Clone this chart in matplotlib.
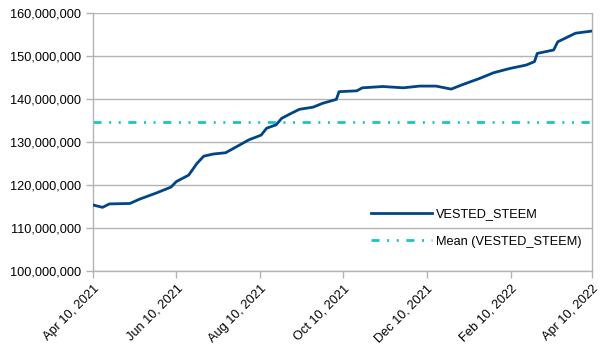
import pandas as pd
import matplotlib
matplotlib.use("Agg")
import matplotlib.pyplot as plt
import matplotlib.dates as mdates
from matplotlib.ticker import FuncFormatter

# === 1. Data ===
dates = ["2021-04-10", "2021-04-17", "2021-04-22", "2021-05-07", "2021-05-14",
         "2021-05-26", "2021-06-06", "2021-06-10", "2021-06-19", "2021-06-25",
         "2021-06-30", "2021-07-07", "2021-07-16", "2021-07-24", "2021-08-02",
         "2021-08-11", "2021-08-15", "2021-08-22", "2021-08-26", "2021-09-01",
         "2021-09-08", "2021-09-18", "2021-09-25", "2021-10-05", "2021-10-07",
         "2021-10-20", "2021-10-24", "2021-11-08", "2021-11-23", "2021-12-05",
         "2021-12-17", "2021-12-28", "2022-01-05", "2022-01-18", "2022-01-28",
         "2022-02-09", "2022-02-21", "2022-02-27", "2022-03-01", "2022-03-13",
         "2022-03-16", "2022-03-29", "2022-04-10"]
vested_steem = [115.35, 114.8, 115.6, 115.7, 116.7,
                118.1, 119.5, 120.8, 122.3, 125.0,
                126.7, 127.2, 127.5, 128.9, 130.5,
                131.6, 133.2, 134.0, 135.5, 136.5,
                137.6, 138.1, 139.0, 139.9, 141.7,
                141.9, 142.6, 142.9, 142.6, 143.0,
                143.0, 142.3, 143.3, 144.8, 146.1,
                147.1, 147.9, 148.7, 150.6, 151.4,
                153.3, 155.3, 155.8]
mean_value = 134.6  # millions

x_ticks = ["2021-04-10", "2021-06-10", "2021-08-10", "2021-10-10",
           "2021-12-10", "2022-02-10", "2022-04-10"]

df = pd.DataFrame({"date": pd.to_datetime(dates),
                   "VESTED_STEEM": [v * 1e6 for v in vested_steem]})

# === 2. Plot ===
plt.rcParams["font.family"] = ["Liberation Sans", "DejaVu Sans"]
plt.rcParams["lines.scale_dashes"] = False

fig = plt.figure(figsize=(6.04, 3.54), dpi=100)
ax = fig.add_axes([0.154, 0.2345, 0.826, 0.7288])

ax.plot(df["date"], df["VESTED_STEEM"], color="#004586", linewidth=2.0,
        label="VESTED_STEEM", zorder=3)
ax.axhline(mean_value * 1e6, color="#1cc4c4", linewidth=2.0,
           dashes=(5.8, 5.5, 1.4, 5.5, 1.4, 5.5),
           label="Mean (VESTED_STEEM)", zorder=2)

ax.set_xlim(pd.Timestamp(x_ticks[0]), pd.Timestamp(x_ticks[-1]))
ax.set_ylim(100e6, 160e6)
ax.set_yticks([i * 1e6 for i in range(100, 161, 10)])
ax.yaxis.set_major_formatter(FuncFormatter(lambda v, p: f"{int(v):,}"))

ax.set_xticks(pd.to_datetime(x_ticks))
ax.xaxis.set_major_formatter(mdates.DateFormatter("%b %d, %Y"))
plt.setp(ax.get_xticklabels(), rotation=45, ha="right",
         rotation_mode="anchor")

ax.grid(True, axis="y", color="#b3b3b3", linewidth=1.0)
for s in ax.spines.values():
    s.set_color("#b3b3b3")
    s.set_linewidth(1.0)
ax.spines["top"].set_visible(False)
ax.tick_params(axis="both", colors="#b3b3b3", labelcolor="black",
               labelsize=9.2, length=5, width=1.0)

ax.legend(loc="center left", bbox_to_anchor=(0.557, 0.167), frameon=False,
          fontsize=9.2, handlelength=4.8, handletextpad=0.3,
          labelspacing=1.2, borderpad=0, borderaxespad=0)

fig.savefig("out.png", dpi=100)
